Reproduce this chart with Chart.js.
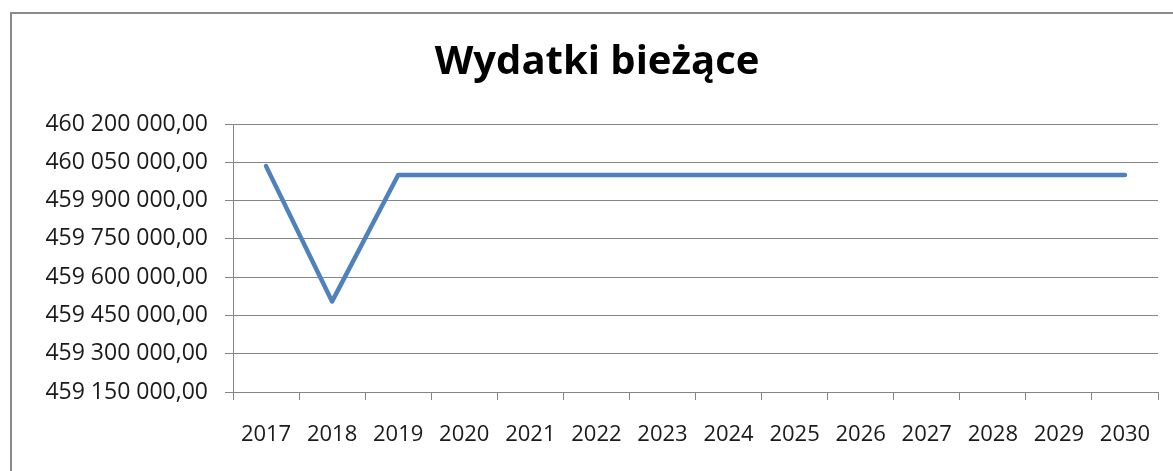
<!DOCTYPE html>
<html>
<head>
<meta charset="utf-8">
<script src="https://cdn.jsdelivr.net/npm/chart.js@4/dist/chart.umd.min.js"></script>
<style>
    html, body { margin: 0; padding: 0; background: #fff; overflow: hidden; }
    #frame {
        position: absolute; left: 10px; top: 12px;
        width: 1200px; height: 500px;
        border: 2px solid #8a8a8a;
    }
    #wrap { position: absolute; left: 0; top: 0; width: 1173px; height: 471px; }
</style>
</head>
<body>
<div id="frame"></div>
<div id="wrap"><canvas id="chart"></canvas></div>
<script>
// Data
const years = ['2017', '2018', '2019', '2020', '2021', '2022', '2023', '2024',
               '2025', '2026', '2027', '2028', '2029', '2030'];
const wydatki = [460035000, 459505000, 460000000, 460000000, 460000000, 460000000, 460000000,
                 460000000, 460000000, 460000000, 460000000, 460000000, 460000000, 460000000];
const yMin = 459150000;
const yMax = 460200000;
const yStep = 150000;

Chart.defaults.font.family = '"Open Sans", "Noto Sans", sans-serif';
Chart.defaults.color = '#1a1a1a';

// "460 200 000,00"
function formatPl(v) {
    const s = Math.round(v).toString().replace(/\B(?=(\d{3})+(?!\d))/g, ' ');
    return s + ',00';
}

const ctx = document.getElementById('chart');
new Chart(ctx, {
    type: 'line',
    data: {
        labels: years,
        datasets: [{
            label: 'Wydatki bieżące',
            data: wydatki,
            borderColor: '#4f81bd',
            borderWidth: 4.5,
            borderJoinStyle: 'round',
            borderCapStyle: 'round',
            pointRadius: 0,
            fill: false,
            tension: 0
        }]
    },
    options: {
        responsive: true,
        maintainAspectRatio: false,
        animation: false,
        layout: {
            // left padding shifts the title centre to match the reference
            padding: { left: 36, right: 15, top: 0, bottom: 0 }
        },
        plugins: {
            legend: { display: false },
            tooltip: { enabled: false },
            title: {
                display: true,
                text: 'Wydatki bieżące',
                color: '#000',
                font: { size: 40, weight: 'bold' },
                padding: { top: 39, bottom: 37 }
            }
        },
        scales: {
            x: {
                offset: true,
                grid: {
                    offset: true,
                    drawOnChartArea: false,
                    drawTicks: true,
                    tickLength: 8,
                    color: '#858585'
                },
                border: { color: '#858585', width: 1 },
                ticks: {
                    font: { size: 22 },
                    padding: 22,
                    maxRotation: 0,
                    autoSkip: false
                },
                afterFit: function(scale) {
                    scale.height = 79;
                }
            },
            y: {
                min: yMin,
                max: yMax,
                grid: {
                    color: '#858585',
                    tickLength: 8
                },
                border: { color: '#858585', width: 1 },
                ticks: {
                    stepSize: yStep,
                    font: { size: 23 },
                    padding: 17,
                    callback: function(value) {
                        return formatPl(value);
                    }
                },
                afterFit: function(scale) {
                    scale.width = 197;
                }
            }
        }
    }
});
</script>
</body>
</html>
